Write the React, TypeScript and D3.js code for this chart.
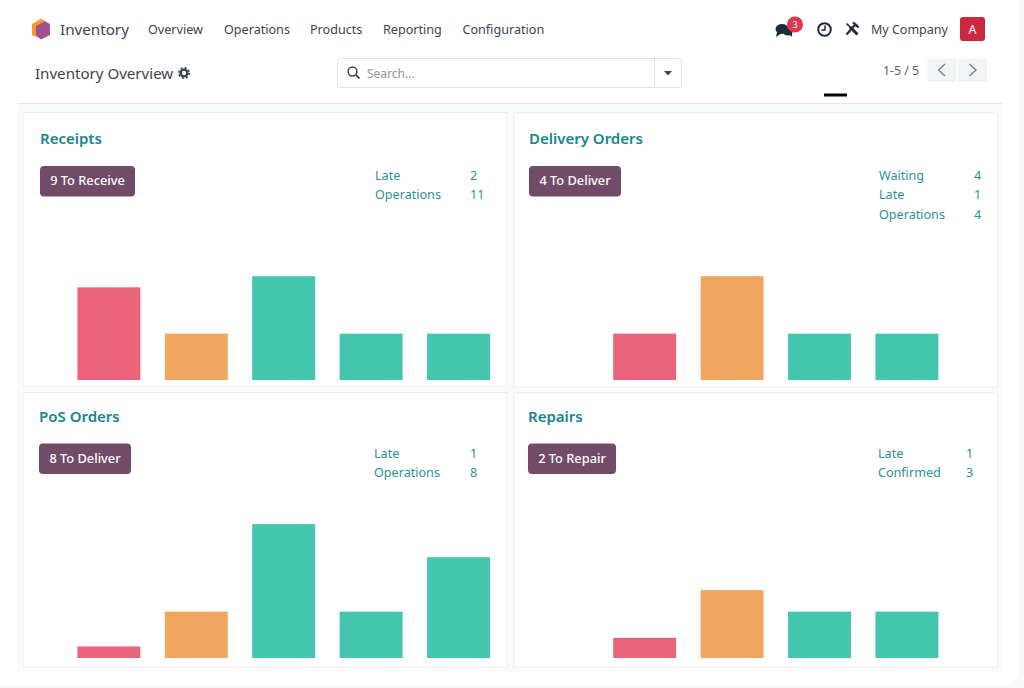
import * as d3 from "d3";
import React from "react";

const categories = ["Late", "Today", "Tomorrow", "Day +2", "Day +3"];

const receiptsValues = [4, 2, 4.48, 2, 2];
const deliveryValues = [0, 2, 4.48, 2, 2];
const posValues = [0.5, 2, 5.78, 2, 4.35];
const repairsValues = [0, 0.87, 2.93, 2, 2];

const receiptsStates = ["late", "soon", "ok", "ok", "ok"];
const shiftedStates = ["ok", "late", "soon", "ok", "ok"];

const receiptsStats: [string, number][] = [["Late", 2], ["Operations", 11]];
const deliveryStats: [string, number][] = [["Waiting", 4], ["Late", 1], ["Operations", 4]];
const posStats: [string, number][] = [["Late", 1], ["Operations", 8]];
const repairsStats: [string, number][] = [["Late", 1], ["Confirmed", 3]];

const menuItems = ["Overview", "Operations", "Products", "Reporting", "Configuration"];
const menuX = [148, 224, 310, 383, 462.5];

const WIDTH = 1024;
const HEIGHT = 688;
const FONT = "'Noto Sans', sans-serif";
const TEAL_TEXT = "#17858c";
const TEXT = "#3d4450";

const color = d3
    .scaleOrdinal<string>()
    .domain(["late", "soon", "ok"])
    .range(["#e9647a", "#f0a561", "#43c6ae"]);

const cards = [
    {
        title: "Receipts", pill: "9 To Receive", values: receiptsValues, states: receiptsStates, stats: receiptsStats,
        box: [23, 112.5, 484, 273.5], titleX: 40, titleY: 139, pillBox: [40, 166, 95, 30.5], statX: 375, countX: 470,
        statY: 175.5, barX: 77.4, base: 380,
    },
    {
        title: "Delivery Orders", pill: "4 To Deliver", values: deliveryValues, states: shiftedStates, stats: deliveryStats,
        box: [513.5, 113, 484, 274], titleX: 529, titleY: 139, pillBox: [529, 166, 92, 30.5], statX: 879, countX: 974,
        statY: 175.5, barX: 525.8, base: 380,
    },
    {
        title: "PoS Orders", pill: "8 To Deliver", values: posValues, states: receiptsStates, stats: posStats,
        box: [23, 392.5, 484, 274.5], titleX: 39, titleY: 417, pillBox: [39, 443.5, 92, 30.5], statX: 374, countX: 470,
        statY: 453.5, barX: 77.4, base: 658,
    },
    {
        title: "Repairs", pill: "2 To Repair", values: repairsValues, states: shiftedStates, stats: repairsStats,
        box: [513.5, 393, 484, 274], titleX: 528, titleY: 417, pillBox: [528, 443.5, 88, 30.5], statX: 878, countX: 966,
        statY: 453.5, barX: 525.8, base: 658,
    },
];

function Card({ card }: { card: (typeof cards)[number] }) {
    const [bx, by, bw, bh] = card.box;
    const [px, py, pw, ph] = card.pillBox;
    const x = d3
        .scaleBand()
        .domain(categories)
        .range([card.barX, card.barX + 412.6])
        .paddingInner(0.28);
    const y = d3.scaleLinear().domain([0, 6]).range([card.base, card.base - 139]);

    return (
        <g>
            <rect x={bx} y={by} width={bw} height={bh} fill="#fff" stroke="#ebeef0" />
            <text x={card.titleX} y={card.titleY} dy="0.35em" fontSize={15} fontWeight={600} fill={TEAL_TEXT}>
                {card.title}
            </text>
            <rect x={px} y={py} width={pw} height={ph} rx={4} fill="#714b67" />
            <text x={px + pw / 2} y={py + ph / 2 - 0.5} dy="0.35em" textAnchor="middle" fontSize={12.8} fontWeight={500} fill="#fff">
                {card.pill}
            </text>
            {card.stats.map(([label, count], i) => (
                <g key={label} fontSize={12.6} fill="#2a9298">
                    <text x={card.statX} y={card.statY + i * 19.5} dy="0.35em">{label}</text>
                    <text x={card.countX} y={card.statY + i * 19.5} dy="0.35em">{count}</text>
                </g>
            ))}
            {card.values.map((v, i) =>
                v > 0 ? (
                    <rect
                        key={categories[i]}
                        x={x(categories[i])}
                        y={y(v)}
                        width={x.bandwidth()}
                        height={y(0) - y(v)}
                        fill={color(card.states[i])}
                    />
                ) : null
            )}
        </g>
    );
}

function App() {
    return (
        <svg
            width={WIDTH}
            height={HEIGHT}
            viewBox={`0 0 ${WIDTH} ${HEIGHT}`}
            style={{ position: "fixed", left: 0, top: 0, display: "block" }}
            fontFamily={FONT}
        >
            <rect width={WIDTH} height={HEIGHT} fill="#f9f9fa" />
            <rect x={-14} y={-14} width={1032} height={699} rx={14} fill="#fff" />

            {/* content area behind the cards */}
            <rect x={17} y={104} width={985} height={568} fill="#f9fafb" />
            <line x1={17} x2={1002} y1={103.5} y2={103.5} stroke="#e3e6e8" />

            {/* top menu */}
            <path d="M41 19 L50 24 L50 35 L41 39.5 L36 36 L36 23 Z" fill="#a2528f" />
            <path d="M41 19 L32 24 L32 35 L36 37 L36 26 L45 21.2 Z" fill="#f59a2f" />
            <text x={60} y={29.5} dy="0.35em" fontSize={15.2} fill={TEXT}>Inventory</text>
            {menuItems.map((m, i) => (
                <text key={m} x={menuX[i]} y={29.5} dy="0.35em" fontSize={12.6} fill={TEXT}>{m}</text>
            ))}

            {/* systray */}
            <ellipse cx={782} cy={29} rx={6.5} ry={5} fill="#1f2a37" />
            <ellipse cx={788} cy={32} rx={4.5} ry={3.5} fill="#1f2a37" />
            <path d="M777 32 L776 37 L782 33 Z M788 33 L792 37 L792 32 Z" fill="#1f2a37" />
            <circle cx={795} cy={24.5} r={8} fill="#e0364f" />
            <text x={795} y={24.5} dy="0.35em" textAnchor="middle" fontSize={9} fill="#fff">3</text>
            <circle cx={824.5} cy={29.5} r={6.3} fill="none" stroke="#1f2a37" strokeWidth={2} />
            <path d="M825 25.5 V30 H821.5" fill="none" stroke="#1f2a37" strokeWidth={1.5} />
            <path d="M846.5 23.5 L851 28" stroke="#1f2a37" strokeWidth={1.6} />
            <path d="M850 27 L857.5 34.5" stroke="#1f2a37" strokeWidth={3} />
            <path d="M855 25 L846.5 34.5" stroke="#1f2a37" strokeWidth={2.2} />
            <path d="M853 22.5 L858.5 27.5 L856 24.8 Z" stroke="#1f2a37" strokeWidth={2.2} fill="none" />
            <text x={871} y={29.5} dy="0.35em" fontSize={12.5} fill={TEXT}>My Company</text>
            <rect x={960} y={17} width={25} height={24} rx={3} fill="#c9283e" />
            <text x={972.5} y={29.5} dy="0.35em" textAnchor="middle" fontSize={12.5} fill="#fff">A</text>

            {/* control panel */}
            <text x={35} y={73.5} dy="0.35em" fontSize={15.1} fill={TEXT}>Inventory Overview</text>
            <circle cx={184} cy={73} r={3.4} fill="none" stroke="#374151" strokeWidth={2.4} />
            <circle cx={184} cy={73} r={5.2} fill="none" stroke="#374151" strokeWidth={1.6} strokeDasharray="2 2.08" />
            <rect x={337.5} y={58.5} width={344} height={29} rx={3} fill="#fff" stroke="#dfe2e5" />
            <line x1={654.5} x2={654.5} y1={59} y2={87} stroke="#dfe2e5" />
            <circle cx={352.5} cy={71.5} r={4.4} fill="none" stroke="#3d4450" strokeWidth={1.5} />
            <line x1={355.8} y1={74.8} x2={359.5} y2={78.5} stroke="#3d4450" strokeWidth={1.8} />
            <text x={367} y={73.5} dy="0.35em" fontSize={12} fill="#8f969e">Search...</text>
            <path d="M664 71 H672 L668 75.5 Z" fill="#3d4450" />
            <text x={883} y={70.5} dy="0.35em" fontSize={12.3} fill="#5a616b">1-5 / 5</text>
            <rect x={927.5} y={58.5} width={29} height={23.5} rx={2} fill="#f1f3f4" />
            <rect x={958} y={58.5} width={29} height={23.5} rx={2} fill="#f1f3f4" />
            <path d="M945 64 L938.5 70 L945 76" fill="none" stroke="#777d85" strokeWidth={1.3} />
            <path d="M969.5 64 L976 70 L969.5 76" fill="none" stroke="#777d85" strokeWidth={1.3} />
            <rect x={824} y={93.5} width={23} height={3} fill="#000" />

            {cards.map((c) => (
                <Card key={c.title} card={c} />
            ))}
        </svg>
    );
}

export default App;
